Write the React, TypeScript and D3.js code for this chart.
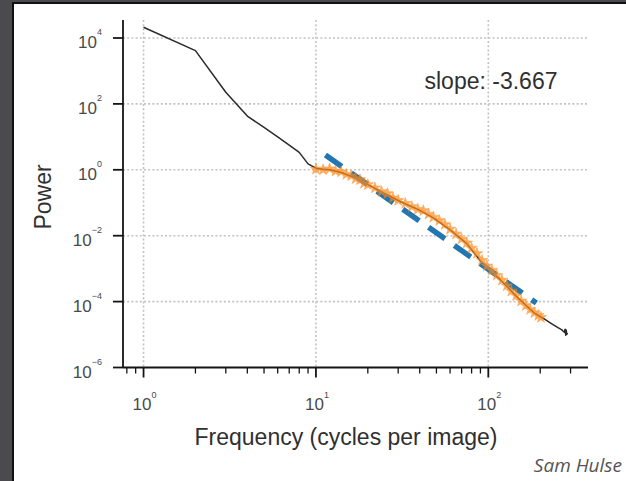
import React from "react";
import * as d3 from "d3";

// Full radial power spectrum (black): frequency (cycles per image) and log10(power)
const spectrumFreq = [1, 2, 3, 4, 5, 6, 7, 8, 9, 10, 11, 12, 14, 16, 18, 20, 25, 31, 39, 48, 60, 75, 93, 118, 148, 184, 210, 231, 255, 266, 272, 276, 279, 281, 283, 285, 288];
const spectrumLogPower = [4.325, 3.615, 2.355, 1.63, 1.284, 1.0, 0.75, 0.53, 0.18, 0.05, 0.02, 0.0, -0.08, -0.2, -0.32, -0.45, -0.72, -0.97, -1.2, -1.46, -1.82, -2.24, -2.86, -3.35, -3.88, -4.34, -4.52, -4.66, -4.8, -4.85, -4.9, -4.93, -4.84, -5.02, -4.86, -5.0, -4.95];

// Fitted range (orange stars)
const fitRangeFreq = [10, 11, 12, 13, 14, 15, 16, 17, 18, 19, 20, 22, 24, 26, 28, 30, 33, 36, 39, 42, 45, 48, 52, 56, 60, 65, 70, 75, 80, 86, 92, 98, 105, 112, 120, 128, 136, 145, 155, 165, 175, 185, 195, 202];
const fitRangeLogPower = [0.02, 0.0, 0.03, -0.04, -0.06, -0.14, -0.18, -0.27, -0.3, -0.41, -0.45, -0.55, -0.66, -0.72, -0.85, -0.93, -1.02, -1.12, -1.2, -1.24, -1.35, -1.44, -1.54, -1.66, -1.8, -1.95, -2.1, -2.22, -2.38, -2.54, -2.75, -2.92, -3.05, -3.2, -3.35, -3.52, -3.68, -3.82, -3.98, -4.12, -4.24, -4.34, -4.42, -4.48];

// Linear fit in log-log space (blue dashed), endpoints
const fitLineFreq = [11.35, 190];
const fitLineLogPower = [0.45, -4.04];
const slopeLabel = "slope: -3.667";

const xMajorTicks = [1, 10, 100];
const xMinorTicks = [0.8, 0.9, 2, 3, 4, 5, 6, 7, 8, 9, 20, 30, 40, 50, 60, 70, 80, 90, 200, 300];
const yMajorTicks = [1e4, 1e2, 1, 1e-2, 1e-4, 1e-6];

const xLabel = "Frequency (cycles per image)";
const yLabel = "Power";
const credit = "Sam Hulse";

const FONT = "'Liberation Sans', Arial, Helvetica, sans-serif";

function expLabel(v: number) {
  const e = Math.round(Math.log10(v));
  return e < 0 ? "\u2212" + Math.abs(e) : String(e);
}

export default function App() {
  const left = 123, right = 588, top = 20, bottom = 367.5;
  const x = d3.scaleLog().domain([0.76, 378.7]).range([left, right]);
  const y = d3.scaleLog().domain([1e-6, Math.pow(10, 4.546)]).range([bottom, top]);

  const line = d3
    .line<[number, number]>()
    .x((d) => x(d[0]))
    .y((d) => y(Math.pow(10, d[1])));

  const spectrum: [number, number][] = spectrumFreq.map((f, i) => [f, spectrumLogPower[i]]);
  const fitRange: [number, number][] = fitRangeFreq.map((f, i) => [f, fitRangeLogPower[i]]);
  const fitLine: [number, number][] = fitLineFreq.map((f, i) => [f, fitLineLogPower[i]]);

  const star = d3.symbol().type(d3.symbolStar).size(40)() as string;

  const gridColor = "#c2c2c2";
  const axisColor = "#151515";

  return (
    <svg
      width={626}
      height={481}
      style={{ position: "fixed", left: 0, top: 0, display: "block" }}
    >
      <rect x={0} y={0} width={626} height={481} fill="#4a4a4f" />
      <rect x={12} y={2} width={614} height={479} fill="#111" />
      <rect x={14} y={4} width={612} height={477} fill="#ffffff" />

      {/* grid */}
      {xMajorTicks.map((t) => (
        <line
          key={"gx" + t}
          x1={x(t)}
          x2={x(t)}
          y1={top}
          y2={bottom}
          stroke={gridColor}
          strokeWidth={1.6}
          strokeDasharray="2,2.2"
        />
      ))}
      {yMajorTicks
        .filter((t) => t > 1e-6)
        .map((t) => (
          <line
            key={"gy" + t}
            x1={left}
            x2={right}
            y1={y(t)}
            y2={y(t)}
            stroke={gridColor}
            strokeWidth={1.6}
            strokeDasharray="2,2.2"
          />
        ))}

      {/* data */}
      <path d={line(spectrum) || ""} fill="none" stroke="#2a2a2a" strokeWidth={1.5} strokeLinejoin="round" />
      <path
        d={line(fitLine) || ""}
        fill="none"
        stroke="#2277b2"
        strokeWidth={5.5}
        strokeDasharray="20,11.5"
      />
      <g opacity={0.72}>
        <path d={line(fitRange) || ""} fill="none" stroke="#ff7f0e" strokeWidth={2.2} />
        {fitRange.map((d, i) => (
          <path
            key={"s" + i}
            d={star}
            transform={`translate(${x(d[0])},${y(Math.pow(10, d[1]))})`}
            fill="#ff8c1a"
            stroke="#ff7f0e"
            strokeWidth={0.6}
          />
        ))}
      </g>

      {/* axes */}
      <line x1={left} x2={left} y1={top} y2={bottom} stroke={axisColor} strokeWidth={1.8} />
      <line x1={left} x2={right} y1={bottom} y2={bottom} stroke={axisColor} strokeWidth={1.8} />

      {yMajorTicks.map((t) => (
        <g key={"yt" + t}>
          <line x1={left - 10} x2={left} y1={y(t)} y2={y(t)} stroke={axisColor} strokeWidth={1.8} />
          <text
            x={102}
            y={y(t) + 10}
            textAnchor="end"
            fontFamily={FONT}
            fontSize={17}
            fill="#4a4a4a"
          >
            <tspan>10</tspan>
            <tspan dy={-12.5} fontSize={9}>
              {expLabel(t)}
            </tspan>
          </text>
        </g>
      ))}

      {xMinorTicks.map((t) => (
        <line
          key={"xm" + t}
          x1={x(t)}
          x2={x(t)}
          y1={bottom}
          y2={bottom + 6}
          stroke={axisColor}
          strokeWidth={1.3}
        />
      ))}
      {xMajorTicks.map((t) => (
        <g key={"xt" + t}>
          <line x1={x(t)} x2={x(t)} y1={bottom} y2={bottom + 10} stroke={axisColor} strokeWidth={1.8} />
          <text
            x={x(t) + 1}
            y={410}
            textAnchor="middle"
            fontFamily={FONT}
            fontSize={17}
            fill="#4a4a4a"
          >
            <tspan>10</tspan>
            <tspan dy={-12.5} fontSize={9}>
              {expLabel(t)}
            </tspan>
          </text>
        </g>
      ))}

      {/* labels */}
      <text x={346} y={445} textAnchor="middle" fontFamily={FONT} fontSize={23} fill="#303030">
        {xLabel}
      </text>
      <text
        transform={`translate(51,197) rotate(-90)`}
        textAnchor="middle"
        fontFamily={FONT}
        fontSize={23}
        fill="#303030"
      >
        {yLabel}
      </text>
      <text x={491} y={89} textAnchor="middle" fontFamily={FONT} fontSize={23} fill="#303030">
        {slopeLabel}
      </text>
      <text
        x={622}
        y={472}
        textAnchor="end"
        fontFamily="'Open Sans', Calibri, sans-serif"
        fontStyle="italic"
        fontSize={19}
        fill="#555"
      >
        {credit}
      </text>
    </svg>
  );
}
